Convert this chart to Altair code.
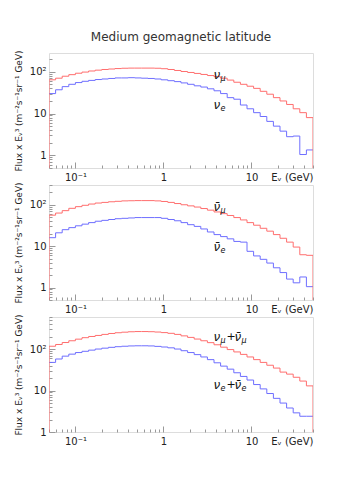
import altair as alt
import numpy as np
import pandas as pd

# ---------------- data ----------------
E_MIN, E_MAX, N_BINS = 0.05, 50.0, 40

NUMU = [64, 70, 78, 85, 92, 98, 104, 109, 113, 116, 119, 121, 122, 122, 122, 122,
        121, 118, 113, 107, 101, 96, 91, 86, 81, 76, 70, 63, 56, 50, 45, 40, 34,
        29, 24, 20, 16.5, 13, 10.5, 8]
NUE = [30, 37, 44, 50, 55, 59, 62, 65, 67, 69, 71, 71, 72, 71, 70, 69, 67, 64,
       61, 58, 54, 50, 46, 43, 39, 35, 30, 24, 22, 16, 13, 10.5, 8.5, 6.5, 5,
       3.8, 2.8, 2.9, 1.05, 1.35]

NUMUBAR = [56, 63, 72, 82, 90, 97, 104, 110, 114, 118, 121, 124, 125, 126, 126,
           126, 124, 120, 114, 107, 100, 94, 88, 81, 74, 67, 61, 55, 49, 43, 37,
           32, 27, 23, 19, 15.5, 12.5, 9.5, 6.2, 6.0]
NUEBAR = [16, 21, 25, 28, 31, 34, 37, 40, 42, 44, 46, 47, 48, 49, 49, 49, 49, 47,
          44, 41, 37, 33, 30, 26, 22, 19, 17, 15, 13, 12.5, 7.5, 5.8, 4.8, 3.9,
          3.0, 2.3, 1.6, 1.3, 1.8, 1.05]

NUMU_SUM = [118, 130, 145, 160, 175, 190, 203, 215, 228, 240, 250, 258, 264, 267,
            267, 265, 260, 252, 242, 228, 210, 193, 176, 160, 144, 128, 112, 98,
            86, 75, 65, 56, 48, 41, 35, 28, 25, 21, 17, 13]
NUE_SUM = [48, 58, 68, 76, 83, 89, 95, 101, 106, 111, 115, 118, 120, 121, 121,
           120, 117, 113, 108, 101, 92, 83, 74, 65, 56, 47, 39, 33, 27, 22, 18,
           14, 11, 8.5, 6.5, 5, 3.8, 2.9, 2.4, 2.4]

Y_DOMAINS = [[0.5, 280], [0.5, 300], [1, 600]]

# label anchors (x in GeV, y in flux units) and their text pieces
LABEL_POS = [[(3.7, 82), (3.7, 16)],
             [(3.7, 90), (3.7, 9.8)],
             [(3.7, 200), (3.7, 13.3)]]
LABEL_TEXT = [[["ν", "μ"], ["ν", "e"]],
              [["ν̄", "μ"], ["ν̄", "e"]],
              [["ν", "μ", "+", "ν̄", "μ"], ["ν", "e", "+", "ν̄", "e"]]]

TITLE = "Medium geomagnetic latitude"
X_TITLE = "Eᵥ (GeV)"
Y_TITLE = "Flux x Eᵥ³ (m⁻²s⁻¹sr⁻¹ GeV)"

X_MAJOR = [0.1, 1, 10]
X_MINOR = [0.05, 0.06, 0.07, 0.08, 0.09, 0.2, 0.3, 0.4, 0.5, 0.6, 0.7, 0.8, 0.9,
           2, 3, 4, 5, 6, 7, 8, 9, 20, 30, 40, 50]
Y_MAJOR = [1, 10, 100]
Y_MINOR_A = [0.5, 0.6, 0.7, 0.8, 0.9, 2, 3, 4, 5, 6, 7, 8, 9, 20, 30, 40, 50, 60,
             70, 80, 90, 200, 300]
Y_MINOR_B = [2, 3, 4, 5, 6, 7, 8, 9, 20, 30, 40, 50, 60, 70, 80, 90, 200, 300,
             400, 500, 600]

RED = "#ff6e6e"
BLUE = "#6e6eff"
FONT = "DejaVu Sans"
W, H = 264, 115

# piece styles: (dx, dy, size) for main glyph, subscript, plus sign
PIECE_STYLE = [(0, 0, 12), (7, 4, 8), (13, 0, 11), (21, 0, 12), (28, 4, 8)]

EDGES = np.logspace(np.log10(E_MIN), np.log10(E_MAX), N_BINS + 1)


def hist_df(vals, ymin, closed):
    rows = []
    o = 0
    if closed:
        rows.append((EDGES[0], ymin, o)); o += 1
    for i, v in enumerate(vals):
        rows.append((EDGES[i], v, o)); o += 1
    rows.append((EDGES[-1], vals[-1], o)); o += 1
    if closed:
        rows.append((EDGES[-1], ymin, o)); o += 1
    return pd.DataFrame(rows, columns=["E", "F", "o"])


def panel(red_vals, blue_vals, ydom, yminor, pos, texts, title=None):
    xs = alt.Scale(type="log", domain=[E_MIN, E_MAX], nice=False)
    ys = alt.Scale(type="log", domain=ydom, nice=False)
    red = hist_df(red_vals, ydom[0], True)
    blue = hist_df(blue_vals, ydom[0], False)

    x_major = alt.Axis(values=X_MAJOR, grid=False, domain=False, tickSize=6, offset=-6,
                       tickColor="#999999", labelPadding=4, labelFontSize=10,
                       labelColor="#222222", labelFont=FONT,
                       labelExpr="datum.value < 0.5 ? '10⁻¹' : datum.value < 5 ? '1' : '10'",
                       title=X_TITLE, titleX=W, titleY=10, titleAlign="right",
                       titleBaseline="top", titleFontSize=10, titleFontWeight="normal",
                       titleFont=FONT, titleColor="#222222", orient="bottom")
    y_major = alt.Axis(values=Y_MAJOR, grid=False, domain=False, tickSize=6, offset=-6,
                       tickColor="#999999", labelPadding=3, labelFontSize=10,
                       labelColor="#222222", labelFont=FONT,
                       labelExpr="datum.value > 50 ? '10²' : datum.value > 5 ? '10' : '1'",
                       title=Y_TITLE, titleFontSize=9, titleFontWeight="normal",
                       titleFont=FONT, titleColor="#222222", titlePadding=6,
                       orient="left")
    x_minor = alt.Axis(values=X_MINOR, grid=False, domain=False, tickSize=3, offset=-3,
                       tickColor="#999999", labels=False, title=None, orient="bottom")
    y_minor = alt.Axis(values=yminor, grid=False, domain=False, tickSize=3, offset=-3,
                       tickColor="#999999", labels=False, title=None, orient="left")

    base_blue = alt.Chart(blue).mark_line(interpolate="step-after", color=BLUE,
                                          strokeWidth=1, clip=True).encode(
        x=alt.X("E:Q", scale=xs, axis=x_major),
        y=alt.Y("F:Q", scale=ys, axis=y_major),
        order="o:Q")
    minor = alt.Chart(blue).mark_line(opacity=0).encode(
        x=alt.X("E:Q", scale=xs, axis=x_minor),
        y=alt.Y("F:Q", scale=ys, axis=y_minor),
        order="o:Q")
    red_line = alt.Chart(red).mark_line(interpolate="step-after", color=RED,
                                        strokeWidth=1, clip=True).encode(
        x=alt.X("E:Q", scale=xs, axis=None),
        y=alt.Y("F:Q", scale=ys, axis=None),
        order="o:Q")

    layers = [base_blue, minor, red_line]
    for (x, y), pieces in zip(pos, texts):
        for j, piece in enumerate(pieces):
            dx, dy, size = PIECE_STYLE[j]
            d = pd.DataFrame([{"x": x, "y": y, "t": piece}])
            layers.append(alt.Chart(d).mark_text(
                align="left", baseline="middle", fontSize=size,
                fontStyle="normal" if piece == "+" else "italic",
                font=FONT, color="#111111", dx=dx, dy=dy).encode(
                x=alt.X("x:Q", scale=xs, axis=None),
                y=alt.Y("y:Q", scale=ys, axis=None), text="t:N"))
    ch = alt.layer(*layers).resolve_axis(x="independent", y="independent").properties(
        width=W, height=H)
    if title:
        ch = ch.properties(title=alt.TitleParams(title, anchor="middle", fontSize=12,
                                                 font=FONT, fontWeight="normal",
                                                 color="#333333", offset=6))
    return ch


p1 = panel(NUMU, NUE, Y_DOMAINS[0], Y_MINOR_A, LABEL_POS[0], LABEL_TEXT[0], TITLE)
p2 = panel(NUMUBAR, NUEBAR, Y_DOMAINS[1], Y_MINOR_A, LABEL_POS[1], LABEL_TEXT[1])
p3 = panel(NUMU_SUM, NUE_SUM, Y_DOMAINS[2], Y_MINOR_B, LABEL_POS[2], LABEL_TEXT[2])

chart = alt.vconcat(p1, p2, p3, spacing=17, bounds="flush").properties(
    padding={"top": 22, "left": 5, "right": 5, "bottom": 5}
).configure_view(stroke="#aaaaaa", strokeWidth=1).configure(background="white")

chart.save("out.html", embed_options={"renderer": "svg", "actions": False})
